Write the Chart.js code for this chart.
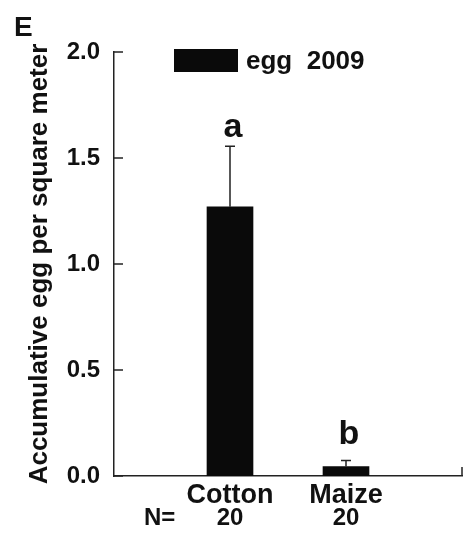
<!DOCTYPE html>
<html>
<head>
<meta charset="utf-8">
<script src="https://cdn.jsdelivr.net/npm/chart.js@4"></script>
<style>
  body { margin: 0; background: #fff; }
  #wrap { width: 472px; height: 538px; }
</style>
</head>
<body>
<div id="wrap"><canvas id="chart" width="472" height="538"></canvas></div>
<script>
// data
var categories = ["", "Cotton", "Maize", ""]
var sampleSizes = ["", "20", "20", ""]
var eggMeans = [null, 1.27, 0.045, null]
var eggErrors = [null, 0.285, 0.028, null]
var sigLetters = ["", "a", "b", ""]
var letterPos = [null, 1.60, 0.15, null]
var yTicks = [0, 0.5, 1.0, 1.5, 2.0]

var FONT = "'Liberation Sans', Arial, sans-serif"

var extras = {
  id: "extras",
  afterDatasetsDraw(chart) {
    var ctx = chart.ctx
    var x = chart.scales.x
    var y = chart.scales.y
    var area = chart.chartArea
    ctx.save()
    ctx.strokeStyle = "#222"
    ctx.lineWidth = 1.5

    // error bars (upper only)
    eggMeans.forEach(function (m, i) {
      if (m == null) return
      var px = x.getPixelForValue(i)
      var top = y.getPixelForValue(m + eggErrors[i])
      ctx.beginPath()
      ctx.moveTo(px, y.getPixelForValue(m))
      ctx.lineTo(px, top)
      ctx.moveTo(px - 5, top)
      ctx.lineTo(px + 5, top)
      ctx.stroke()
    })

    // inward ticks on y axis
    yTicks.forEach(function (v) {
      var py = y.getPixelForValue(v)
      ctx.beginPath()
      ctx.moveTo(area.left, py)
      ctx.lineTo(area.left + 9, py)
      ctx.stroke()
    })
    // small tick at right end of x axis
    ctx.beginPath()
    ctx.moveTo(area.right, area.bottom)
    ctx.lineTo(area.right, area.bottom - 9)
    ctx.stroke()

    // significance letters
    ctx.fillStyle = "#111"
    ctx.textAlign = "center"
    ctx.textBaseline = "alphabetic"
    ctx.font = "bold 34px " + FONT
    sigLetters.forEach(function (s, i) {
      if (!s) return
      ctx.fillText(s, x.getPixelForValue(i) + 3, y.getPixelForValue(letterPos[i]))
    })

    // sample sizes row
    ctx.font = "bold 24px " + FONT
    sampleSizes.forEach(function (n, i) {
      if (!n) return
      ctx.fillText(n, x.getPixelForValue(i), 525)
    })
    ctx.textAlign = "left"
    ctx.fillText("N=", 144, 525)

    // panel letter
    ctx.font = "bold 28px " + FONT
    ctx.fillText("E", 14, 36)

    // legend
    var ds = chart.data.datasets[0]
    ctx.fillStyle = ds.backgroundColor
    ctx.fillRect(174, 49, 64, 23)
    ctx.fillStyle = "#111"
    ctx.font = "bold 26px " + FONT
    ctx.textBaseline = "middle"
    ctx.fillText(ds.label, 246, 62)
    ctx.restore()
  }
}

new Chart(document.getElementById("chart"), {
  type: "bar",
  data: {
    labels: categories,
    datasets: [
      {
        label: "egg  2009",
        data: eggMeans,
        backgroundColor: "#0a0a0a",
        borderWidth: 0,
        barThickness: 46,
      },
    ],
  },
  options: {
    responsive: false,
    animation: false,
    layout: { padding: { top: 52, right: 10, left: 0, bottom: 0 } },
    plugins: {
      legend: { display: false },
      tooltip: { enabled: false },
    },
    scales: {
      x: {
        offset: false,
        grid: { display: false, drawTicks: false },
        border: { color: "#222", width: 1.5 },
        ticks: {
          color: "#111",
          font: { family: FONT, size: 27, weight: "bold", lineHeight: 0.82 },
          padding: 8,
          maxRotation: 0,
          autoSkip: false,
        },
        afterFit(scale) { scale.height = 62 },
      },
      y: {
        min: 0,
        max: 2,
        afterBuildTicks(scale) { scale.ticks = yTicks.map(function (v) { return { value: v } }) },
        grid: { display: false, drawTicks: false },
        border: { color: "#222", width: 1.5 },
        ticks: {
          color: "#111",
          font: { family: FONT, size: 24, weight: "bold" },
          padding: 14,
          callback: function (v) { return v.toFixed(1) },
        },
        title: {
          display: true,
          text: "Accumulative egg per square meter",
          color: "#111",
          font: { family: FONT, size: 26, weight: "bold" },
          padding: { top: 24, bottom: 0 },
        },
        afterFit(scale) { scale.width = 114 },
      },
    },
  },
  plugins: [extras],
})
</script>
</body>
</html>
